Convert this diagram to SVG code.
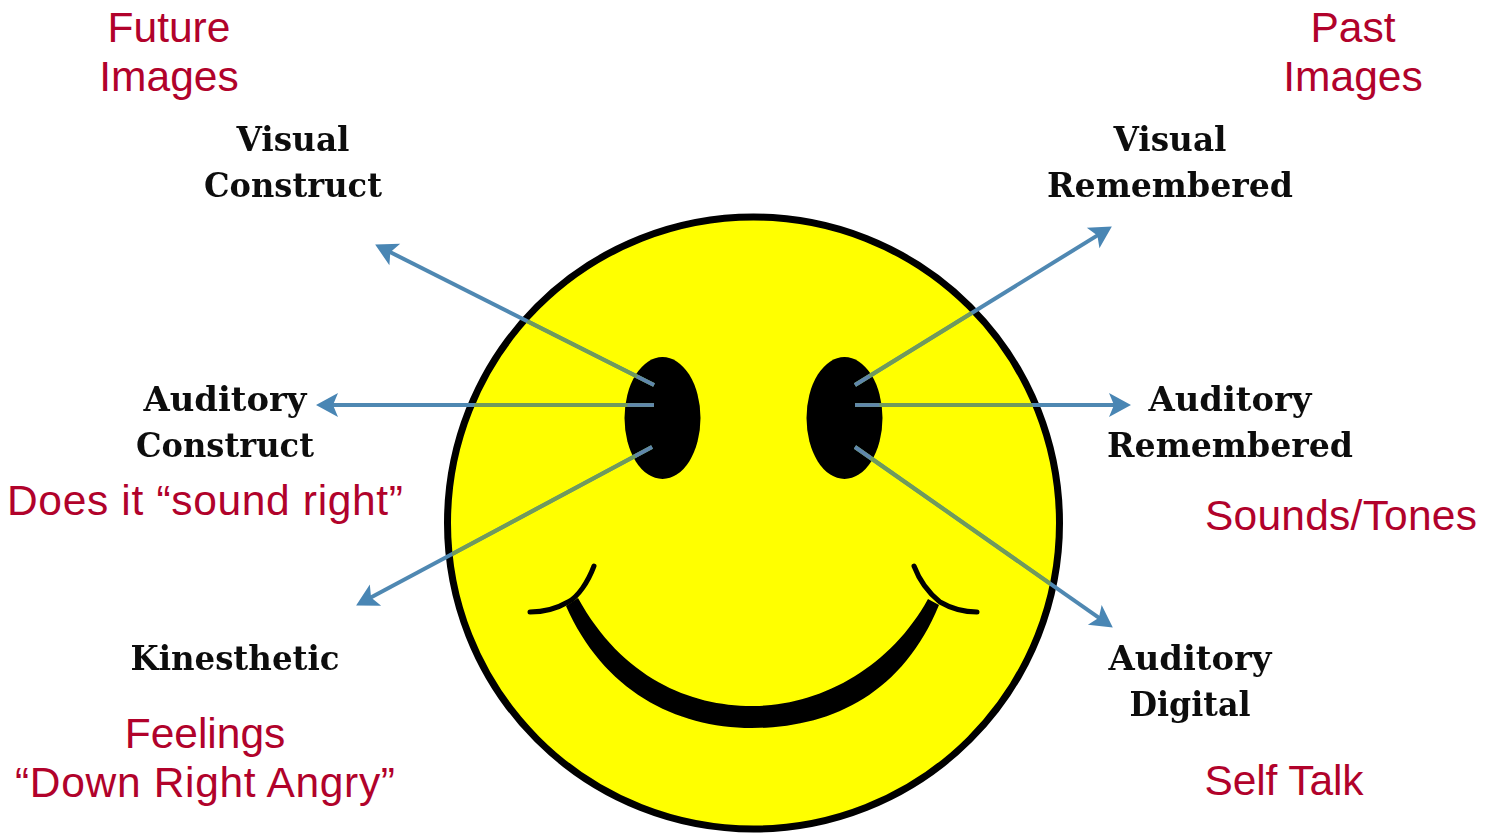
<svg xmlns="http://www.w3.org/2000/svg" width="1496" height="836" viewBox="0 0 1496 836">
<style>
.lab{font-family:"DejaVu Serif","Liberation Serif",serif;font-weight:700;font-size:33px;fill:#111;text-anchor:middle}
.note{font-family:"Liberation Sans",Arial,sans-serif;font-size:42.5px;fill:#b1022b;text-anchor:middle}
.arrow,.on-face,.in-eye{fill:none;stroke-width:4}
.arrow{stroke:#4f88b2}
.arrow line{marker-end:url(#head)}
.on-face{stroke:#6f9a5c}
.in-eye{stroke:#5f86ad;stroke-width:3.5}
.ink{fill:#000}
</style>
<defs>
<marker id="head" markerUnits="userSpaceOnUse" markerWidth="26" markerHeight="28" refX="18" refY="13" orient="auto">
<path d="M23 13L1 1L6 13L1 25Z" fill="#4a86b4"/>
</marker>
<clipPath id="face-clip"><circle cx="753.5" cy="523" r="303"/></clipPath>
<clipPath id="eye-clip"><ellipse cx="662.5" cy="418" rx="36" ry="59"/><ellipse cx="844.5" cy="418" rx="36" ry="59"/></clipPath>
<filter id="soft" x="-5%" y="-5%" width="110%" height="110%"><feGaussianBlur stdDeviation="0.7"/></filter>
<g id="spokes">
<line x1="654" y1="385" x2="379.6" y2="246.8"/>
<line x1="654" y1="405" x2="321" y2="405"/>
<line x1="652" y1="447" x2="360.5" y2="603.1"/>
<line x1="855" y1="385" x2="1107.6" y2="229.1"/>
<line x1="855" y1="405" x2="1126" y2="405"/>
<line x1="855" y1="447" x2="1108.7" y2="624.7"/>
</g>
</defs>
<rect width="1496" height="836" fill="#fff"/>
<g id="face" filter="url(#soft)">
<circle cx="753.5" cy="523" r="306" fill="#ffff00" stroke="#000" stroke-width="7"/>
<ellipse class="ink" cx="662.5" cy="418" rx="38" ry="61"/>
<ellipse class="ink" cx="844.5" cy="418" rx="38" ry="61"/>
<path class="ink" d="M566 606C603 690 675 728 752 728C830 728 902 695 939 605L928 599C890 668 820 706 752 706C690 706 622 678 578 598Z"/>
<path d="M594 566C588 582 578 597 568 602C556 609 545 612 530 612M914 566C920 582 930 594 940 602C952 609 962 612 977 612" fill="none" stroke="#000" stroke-width="5" stroke-linecap="round"/>
</g>
<g id="connectors" filter="url(#soft)">
<g class="arrow">
<line x1="654" y1="385" x2="379.6" y2="246.8"/>
<line x1="654" y1="405" x2="321" y2="405"/>
<line x1="652" y1="447" x2="360.5" y2="603.1"/>
<line x1="855" y1="385" x2="1107.6" y2="229.1"/>
<line x1="855" y1="405" x2="1126" y2="405"/>
<line x1="855" y1="447" x2="1108.7" y2="624.7"/>
</g>
<g class="on-face" clip-path="url(#face-clip)"><use href="#spokes"/></g>
<g class="in-eye" clip-path="url(#eye-clip)"><use href="#spokes"/></g>
</g>
<g id="visual-construct" filter="url(#soft)"><text class="lab" x="293" y="151" textLength="113" lengthAdjust="spacingAndGlyphs">Visual</text><text class="lab" x="293" y="197" textLength="178" lengthAdjust="spacingAndGlyphs">Construct</text></g>
<g id="visual-remembered" filter="url(#soft)"><text class="lab" x="1170" y="151" textLength="113" lengthAdjust="spacingAndGlyphs">Visual</text><text class="lab" x="1170" y="197" textLength="246" lengthAdjust="spacingAndGlyphs">Remembered</text></g>
<g id="auditory-construct" filter="url(#soft)"><text class="lab" x="225" y="411" textLength="163" lengthAdjust="spacingAndGlyphs">Auditory</text><text class="lab" x="225" y="457" textLength="178" lengthAdjust="spacingAndGlyphs">Construct</text></g>
<g id="auditory-remembered" filter="url(#soft)"><text class="lab" x="1230" y="411" textLength="163" lengthAdjust="spacingAndGlyphs">Auditory</text><text class="lab" x="1230" y="457" textLength="246" lengthAdjust="spacingAndGlyphs">Remembered</text></g>
<g id="kinesthetic" filter="url(#soft)"><text class="lab" x="235" y="670" textLength="209" lengthAdjust="spacingAndGlyphs">Kinesthetic</text></g>
<g id="auditory-digital" filter="url(#soft)"><text class="lab" x="1190" y="670" textLength="163" lengthAdjust="spacingAndGlyphs">Auditory</text><text class="lab" x="1190" y="716" textLength="121" lengthAdjust="spacingAndGlyphs">Digital</text></g>
<g id="future-images"><text class="note" x="169" y="42">Future</text><text class="note" x="169" y="91">Images</text></g>
<g id="past-images"><text class="note" x="1353" y="42">Past</text><text class="note" x="1353" y="91">Images</text></g>
<g id="sound-right"><text class="note" x="205" y="515" textLength="396" lengthAdjust="spacing">Does it “sound right”</text></g>
<g id="sounds-tones"><text class="note" x="1341" y="530" textLength="272" lengthAdjust="spacing">Sounds/Tones</text></g>
<g id="feelings"><text class="note" x="205" y="748">Feelings</text><text class="note" x="205" y="797" textLength="380" lengthAdjust="spacing">“Down Right Angry”</text></g>
<g id="self-talk"><text class="note" x="1284" y="795" textLength="159" lengthAdjust="spacing">Self Talk</text></g>
</svg>
